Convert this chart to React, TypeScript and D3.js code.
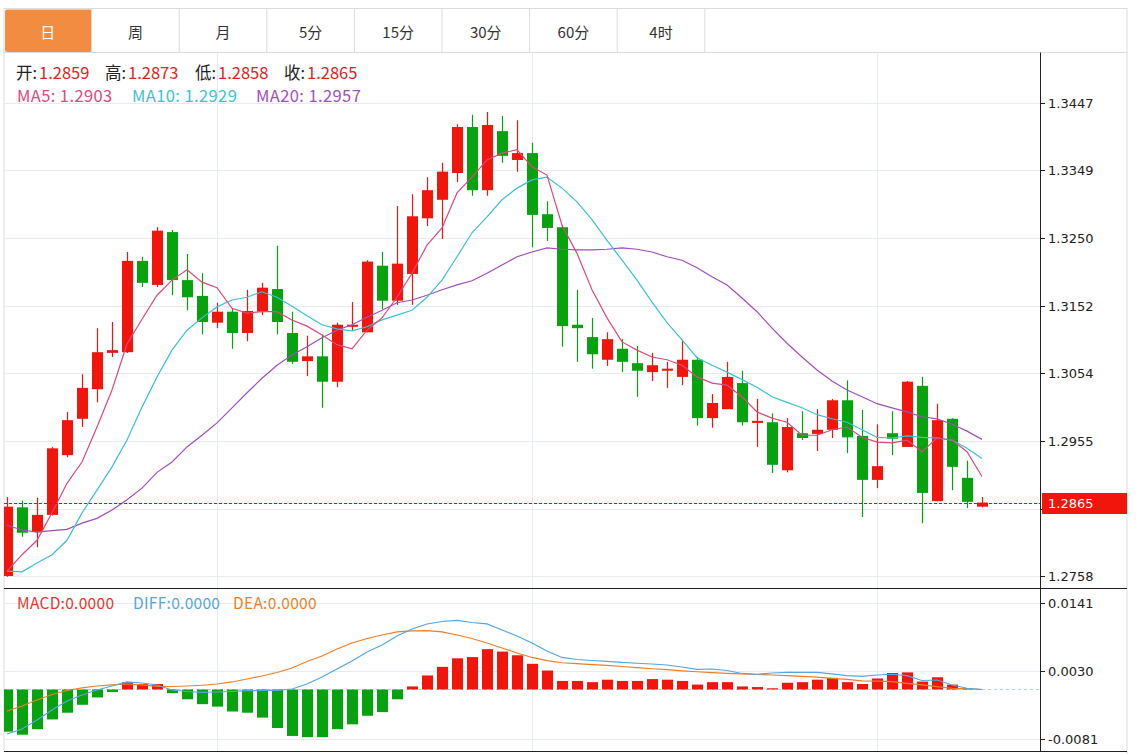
import * as d3 from 'd3';
import { useEffect, useRef } from 'react';

// period tabs
const tabs = ['日', '周', '月', '5分', '15分', '30分', '60分', '4时'];

// daily candles, oldest first
const open = [
  1.2758, 1.2858, 1.2822, 1.2847, 1.2934, 1.2987, 1.303, 1.3083, 1.3084, 1.3217, 1.3182, 1.3259, 1.3189, 1.3166,
  1.3127, 1.3143, 1.3112, 1.3143, 1.3176, 1.3112, 1.3071, 1.3078, 1.3041, 1.3121, 1.3113, 1.321, 1.3159, 1.3198,
  1.3279, 1.3306, 1.3345, 1.3412, 1.332, 1.3406, 1.3364, 1.3374, 1.3285, 1.3266, 1.3124, 1.3106, 1.3073, 1.3089,
  1.3068, 1.3055, 1.3057, 1.3048, 1.3073, 1.2988, 1.3001, 1.3039, 1.2981, 1.2982, 1.2912, 1.2966, 1.2965, 1.2971,
  1.3014, 1.2962, 1.2898, 1.2966, 1.2946, 1.3035, 1.2867, 1.2987, 1.2901, 1.2859,
];
const high = [
  1.2873, 1.2868, 1.2872, 1.2946, 1.2997, 1.3052, 1.3119, 1.3128, 1.323, 1.3223, 1.3266, 1.3262, 1.3227, 1.3199,
  1.3156, 1.3148, 1.3175, 1.3185, 1.3239, 1.3143, 1.3108, 1.311, 1.3127, 1.3157, 1.3218, 1.323, 1.3297, 1.3314,
  1.3339, 1.336, 1.3416, 1.343, 1.3434, 1.3428, 1.3422, 1.3389, 1.3304, 1.3269, 1.3175, 1.3134, 1.3113, 1.3103,
  1.3093, 1.3083, 1.307, 1.3102, 1.3077, 1.3023, 1.307, 1.3057, 1.3016, 1.2995, 1.2988, 1.2998, 1.3001, 1.3016,
  1.3043, 1.3, 1.2979, 1.2998, 1.3042, 1.3048, 1.3009, 1.2988, 1.2926, 1.2873,
];
const low = [
  1.2757, 1.2815, 1.28, 1.2846, 1.2931, 1.2975, 1.3011, 1.3077, 1.3083, 1.3179, 1.3179, 1.3167, 1.3145, 1.311,
  1.3119, 1.3089, 1.31, 1.3138, 1.311, 1.3067, 1.3049, 1.3003, 1.3033, 1.3115, 1.3113, 1.3147, 1.3153, 1.3153,
  1.3268, 1.3249, 1.3332, 1.3312, 1.3312, 1.336, 1.3347, 1.3237, 1.3246, 1.3092, 1.307, 1.306, 1.3064, 1.3055,
  1.3019, 1.3042, 1.3032, 1.3036, 1.2977, 1.2974, 1.3001, 1.2977, 1.2946, 1.2908, 1.2909, 1.2956, 1.294, 1.2959,
  1.2937, 1.2844, 1.2886, 1.2934, 1.2946, 1.2835, 1.2867, 1.2883, 1.2857, 1.2858,
];
const close = [
  1.2859, 1.2821, 1.2847, 1.2944, 1.2985, 1.3032, 1.3084, 1.3087, 1.3217, 1.3185, 1.3261, 1.3189, 1.3164, 1.3128,
  1.3143, 1.3112, 1.3144, 1.3178, 1.3128, 1.307, 1.3078, 1.3041, 1.3124, 1.3124, 1.3216, 1.3159, 1.3213, 1.3282,
  1.332, 1.3347, 1.3412, 1.332, 1.3415, 1.337, 1.3374, 1.3284, 1.3265, 1.3122, 1.3119, 1.3081, 1.3103, 1.307,
  1.3057, 1.3065, 1.306, 1.3073, 1.2988, 1.301, 1.3048, 1.2982, 1.2984, 1.292, 1.2975, 1.2959, 1.2971, 1.3014,
  1.296, 1.2898, 1.2918, 1.2958, 1.3041, 1.2879, 1.2985, 1.2917, 1.2866, 1.2865,
];

// moving averages as shown by the terminal
const ma5 = [
  1.2765, 1.2789, 1.281, 1.285, 1.2893, 1.2924, 1.2975, 1.3029, 1.3096, 1.3132, 1.3167, 1.3189, 1.3204, 1.3186,
  1.3178, 1.3148, 1.3141, 1.3143, 1.3143, 1.3131, 1.3122, 1.3109, 1.3095, 1.3089, 1.3116, 1.3134, 1.3164, 1.3199,
  1.324, 1.3265, 1.3316, 1.3339, 1.3364, 1.3374, 1.3379, 1.3354, 1.3342, 1.3269, 1.3228, 1.3175, 1.3134, 1.3099,
  1.3087, 1.3077, 1.3073, 1.3065, 1.3048, 1.3039, 1.3036, 1.3019, 1.2997, 1.2988, 1.2982, 1.2963, 1.2963, 1.2971,
  1.2975, 1.296, 1.2953, 1.2952, 1.2956, 1.2939, 1.2959, 1.2956, 1.2939, 1.2903,
];
const ma10 = [
  1.2765, 1.2764, 1.2777, 1.2789, 1.281, 1.285, 1.2883, 1.2917, 1.2956, 1.3004, 1.3048, 1.3087, 1.3116, 1.3134,
  1.315, 1.316, 1.3164, 1.3172, 1.3164, 1.3151, 1.3137, 1.3124, 1.3118, 1.3115, 1.3121, 1.3131, 1.3138, 1.3145,
  1.3164, 1.3189, 1.3223, 1.3258, 1.3281, 1.3306, 1.3323, 1.3335, 1.3339, 1.3323, 1.3303, 1.3277, 1.3247, 1.3218,
  1.3189, 1.3157, 1.3127, 1.3102, 1.3076, 1.3065, 1.3055, 1.3044, 1.3033, 1.3019, 1.3011, 1.3003, 1.2993, 1.2987,
  1.2982, 1.2971, 1.296, 1.2959, 1.2962, 1.296, 1.2959, 1.2956, 1.2944, 1.2929,
];
const ma20 = [
  1.2832, 1.2825, 1.2822, 1.2824, 1.2826, 1.2835, 1.2842, 1.2854, 1.2869, 1.2886, 1.2909, 1.2924, 1.2946, 1.2963,
  1.2981, 1.3003, 1.3025, 1.3046, 1.3065, 1.308, 1.3092, 1.3105, 1.3116, 1.3124, 1.3135, 1.3145, 1.3156, 1.316,
  1.3167, 1.3175, 1.3182, 1.3188, 1.3199, 1.3211, 1.3223, 1.323, 1.3236, 1.3234, 1.3233, 1.3233, 1.3234, 1.3236,
  1.3234, 1.323, 1.3223, 1.3218, 1.3207, 1.3194, 1.3182, 1.3163, 1.3143, 1.3119, 1.3097, 1.3077, 1.3058, 1.3042,
  1.3029, 1.3019, 1.3009, 1.3003, 1.2997, 1.299, 1.2987, 1.2979, 1.2969, 1.2957,
];

// MACD panel
const macd = [
  -0.0069, -0.0074, -0.0065, -0.0049, -0.0038, -0.0025, -0.0013, -0.0004, 0.0012, 0.0009, 0.0009, -0.0006, -0.0016,
  -0.0024, -0.0028, -0.0036, -0.0038, -0.0046, -0.0063, -0.0076, -0.0078, -0.0078, -0.0065, -0.0057, -0.0043,
  -0.0037, -0.0016, 0.0005, 0.0023, 0.0037, 0.0051, 0.0053, 0.0066, 0.0062, 0.0056, 0.0042, 0.0031, 0.0014, 0.0014,
  0.0012, 0.0016, 0.0014, 0.0014, 0.0017, 0.0016, 0.0014, 0.0008, 0.0012, 0.0012, 0.0005, 0.0004, 0.0002, 0.0011,
  0.0012, 0.0016, 0.0019, 0.0012, 0.0009, 0.0018, 0.0027, 0.0028, 0.0013, 0.002, 0.0008, 0.0001, 0,
];
const diff = [
  -0.00728, -0.00646, -0.00499, -0.00335, -0.00188, -0.0009, -0.00008, 0.00057, 0.00123, 0.00106, 0.00074, -0.00008,
  -0.00033, -0.00046, -0.00041, -0.00033, -0.0002, -0.00016, -0.00013, 0.00008, 0.0009, 0.00205, 0.00335, 0.00466,
  0.00614, 0.00728, 0.00875, 0.0099, 0.01072, 0.01112, 0.01129, 0.01096, 0.01072, 0.00973, 0.00875, 0.00761, 0.0063,
  0.00524, 0.00491, 0.00474, 0.00461, 0.00442, 0.00429, 0.00417, 0.00401, 0.00368, 0.0033, 0.00335, 0.00311, 0.00262,
  0.00249, 0.0027, 0.00281, 0.00281, 0.00281, 0.00254, 0.00226, 0.00213, 0.00237, 0.00249, 0.00226, 0.00147, 0.00155,
  0.00074, 0.0002, 0,
];
const dea = [
  -0.00352, -0.0027, -0.00172, -0.00082, -0.00016, 0.00025, 0.00057, 0.00074, 0.0009, 0.00074, 0.00052, 0.00049,
  0.00057, 0.00069, 0.0009, 0.00123, 0.00172, 0.00221, 0.00278, 0.00352, 0.00458, 0.00548, 0.00663, 0.00761, 0.00834,
  0.00892, 0.00941, 0.0096, 0.00962, 0.00941, 0.00892, 0.00834, 0.00761, 0.00679, 0.00597, 0.00524, 0.00471, 0.00437,
  0.00422, 0.00406, 0.00393, 0.00376, 0.00357, 0.00339, 0.00324, 0.00306, 0.0029, 0.00275, 0.00265, 0.00254, 0.00245,
  0.00237, 0.00226, 0.00213, 0.00201, 0.00183, 0.00164, 0.00142, 0.00136, 0.00128, 0.00101, 0.00074, 0.00046, 0.0002,
  0.00015, 0,
];

const priceTicks = [1.3447, 1.3349, 1.325, 1.3152, 1.3054, 1.2955, 1.2856, 1.2758];
const macdTicks = [0.0141, 0.003, -0.0081];
const monthStarts = [14, 35, 58]; // candle index where a new month begins

const RED = '#f2150c';
const GREEN = '#06a30e';
const GRID = '#e6ecf1';
const C_MA5 = '#e0487d';
const C_MA10 = '#3cc1d5';
const C_MA20 = '#a04fbd';
const C_DIFF = '#55a7e2';
const C_DEA = '#f07f24';
const FONT = '"Noto Sans CJK SC", "Noto Sans", sans-serif';
const AXIS_FONT = '"DejaVu Sans", sans-serif';

export default function App() {
  const ref = useRef<SVGSVGElement>(null);

  useEffect(() => {
    const W = 1140;
    const H = 754;
    const left = 4;
    const axisX = 1040;
    const right = 1127;
    const tabTop = 8.5;
    const tabBottom = 52.5;
    const mainBottom = 588.5;
    const macdBottom = 751.5;

    const svg = d3.select(ref.current);
    svg.selectAll('*').remove();
    svg.attr('width', W).attr('height', H);

    const x = d3.scaleLinear().domain([0, close.length - 1]).range([7, 982]);
    const y = d3.scaleLinear().domain([1.2758, 1.3447]).range([576, 103]);
    const ym = d3.scaleLinear().domain([-0.0081, 0.0141]).range([739, 603.3]);
    const bodyW = 11;

    svg.append('defs').append('clipPath').attr('id', 'plot').append('rect')
      .attr('x', left).attr('y', tabBottom).attr('width', axisX - left).attr('height', macdBottom - tabBottom);

    //tabs
    const tabW = 87.6;
    const tabG = svg.append('g');
    tabG.append('rect').attr('x', left).attr('y', tabTop).attr('width', right - left).attr('height', tabBottom - tabTop)
      .attr('fill', '#fff').attr('stroke', '#dcdcdc');
    tabs.forEach((t, i) => {
      const tx = left + i * tabW;
      if (i === 0) {
        tabG.append('rect').attr('x', tx + 1).attr('y', tabTop + 1).attr('width', tabW - 1).attr('height', tabBottom - tabTop - 1.5)
          .attr('fill', '#f28c41').attr('rx', 2);
      }
      tabG.append('line').attr('x1', tx + tabW).attr('x2', tx + tabW).attr('y1', tabTop).attr('y2', tabBottom)
        .attr('stroke', '#dcdcdc');
      tabG.append('text').attr('x', tx + tabW / 2).attr('y', 31).attr('text-anchor', 'middle')
        .attr('dominant-baseline', 'central').attr('font-family', FONT).attr('font-size', 15)
        .attr('fill', i === 0 ? '#fff' : '#333').text(t);
    });

    //frame lines
    svg.append('line').attr('x1', left).attr('x2', left).attr('y1', tabBottom).attr('y2', macdBottom).attr('stroke', '#dcdcdc');
    svg.append('line').attr('x1', right).attr('x2', right).attr('y1', tabBottom).attr('y2', H).attr('stroke', '#dcdcdc');

    //grid
    const grid = svg.append('g').attr('stroke', GRID).attr('stroke-width', 1);
    priceTicks.forEach((t) => {
      const yy = Math.round(y(t)) + 0.5;
      grid.append('line').attr('x1', left).attr('x2', axisX).attr('y1', yy).attr('y2', yy);
    });
    macdTicks.forEach((t) => {
      const yy = Math.round(ym(t)) + 0.5;
      grid.append('line').attr('x1', left).attr('x2', axisX).attr('y1', yy).attr('y2', yy);
    });
    monthStarts.forEach((i) => {
      const xx = Math.round(x(i)) + 0.5;
      grid.append('line').attr('x1', xx).attr('x2', xx).attr('y1', tabBottom).attr('y2', macdBottom);
    });

    //legend
    const last = close.length - 1;
    const leg = svg.append('text').attr('y', 79).attr('font-family', FONT).attr('font-size', 16.5);
    [
      ['开:', open[last], 16, 39],
      ['高:', high[last], 105, 128],
      ['低:', low[last], 195, 218],
      ['收:', close[last], 284, 307],
    ].forEach(([k, v, px, vx]) => {
      leg.append('tspan').attr('x', px as number).attr('fill', '#222').text(k as string);
      leg.append('tspan').attr('x', vx as number).attr('fill', '#e2231a').text((v as number).toFixed(4));
    });
    const maLeg = svg.append('text').attr('y', 102).attr('font-family', FONT).attr('font-size', 16.5)
      .attr('letter-spacing', 0.4);
    maLeg.append('tspan').attr('x', 17).attr('fill', C_MA5).text(`MA5: ${ma5[last].toFixed(4)}`);
    maLeg.append('tspan').attr('x', 132).attr('fill', C_MA10).text(`MA10: ${ma10[last].toFixed(4)}`);
    maLeg.append('tspan').attr('x', 256).attr('fill', C_MA20).text(`MA20: ${ma20[last].toFixed(4)}`);

    const plot = svg.append('g').attr('clip-path', 'url(#plot)');

    //candles
    close.forEach((c, i) => {
      const o = open[i];
      const col = c >= o ? RED : GREEN;
      const cx = Math.round(x(i)) + 0.5;
      plot.append('line').attr('x1', cx).attr('x2', cx).attr('y1', y(high[i])).attr('y2', y(low[i]))
        .attr('stroke', col).attr('stroke-width', 1.2);
      const top = y(Math.max(o, c));
      const h = Math.max(2, Math.abs(y(o) - y(c)));
      plot.append('rect').attr('x', cx - bodyW / 2).attr('y', top).attr('width', bodyW).attr('height', h).attr('fill', col);
    });

    //moving averages
    const priceLine = d3.line<number>().x((_d, i) => x(i)).y((d) => y(d));
    [
      [ma20, C_MA20],
      [ma10, C_MA10],
      [ma5, C_MA5],
    ].forEach(([arr, col]) => {
      plot.append('path').datum(arr as number[]).attr('fill', 'none').attr('stroke', col as string)
        .attr('stroke-width', 1.2).attr('d', priceLine);
    });

    //last price marker
    const py = Math.round(y(close[last])) + 0.5;
    svg.append('line').attr('x1', left).attr('x2', axisX).attr('y1', py).attr('y2', py)
      .attr('stroke', '#f00').attr('stroke-width', 1.2).attr('stroke-dasharray', '3,2');

    //price axis
    svg.append('line').attr('x1', axisX + 0.5).attr('x2', axisX + 0.5).attr('y1', tabBottom).attr('y2', mainBottom).attr('stroke', '#222');
    const ax = svg.append('g').attr('font-family', AXIS_FONT).attr('font-size', 13).attr('fill', '#222');
    priceTicks.forEach((t) => {
      const yy = Math.round(y(t)) + 0.5;
      ax.append('line').attr('x1', axisX).attr('x2', axisX + 5).attr('y1', yy).attr('y2', yy).attr('stroke', '#222');
      // the label under the last-price marker stays hidden, as in the terminal
      if (Math.abs(yy - py) > 14) {
        ax.append('text').attr('x', axisX + 8).attr('y', yy).attr('dominant-baseline', 'central').text(t.toFixed(4));
      }
    });
    svg.append('rect').attr('x', axisX + 2).attr('y', py - 10.5).attr('width', right - axisX - 2).attr('height', 21).attr('fill', RED);
    svg.append('text').attr('x', axisX + 8).attr('y', py).attr('dominant-baseline', 'central')
      .attr('font-family', AXIS_FONT).attr('font-size', 13).attr('fill', '#fff').text(close[last].toFixed(4));

    //separator between panels
    svg.append('line').attr('x1', left).attr('x2', right).attr('y1', mainBottom).attr('y2', mainBottom).attr('stroke', '#222');
    svg.append('line').attr('x1', left).attr('x2', right).attr('y1', macdBottom).attr('y2', macdBottom).attr('stroke', '#222');

    //macd panel
    const zy = ym(0);
    plot.append('line').attr('x1', left).attr('x2', axisX).attr('y1', zy).attr('y2', zy)
      .attr('stroke', '#a9d6ec').attr('stroke-dasharray', '3,3');
    macd.forEach((v, i) => {
      if (v === 0) return;
      const cx = Math.round(x(i)) + 0.5;
      plot.append('rect').attr('x', cx - bodyW / 2).attr('y', Math.min(zy, ym(v))).attr('width', bodyW)
        .attr('height', Math.abs(ym(v) - zy)).attr('fill', v > 0 ? RED : GREEN);
    });
    const macdLine = d3.line<number>().x((_d, i) => x(i)).y((d) => ym(d));
    plot.append('path').datum(dea).attr('fill', 'none').attr('stroke', C_DEA).attr('stroke-width', 1.2).attr('d', macdLine);
    plot.append('path').datum(diff).attr('fill', 'none').attr('stroke', C_DIFF).attr('stroke-width', 1.2).attr('d', macdLine);

    svg.append('line').attr('x1', axisX + 0.5).attr('x2', axisX + 0.5).attr('y1', mainBottom).attr('y2', macdBottom).attr('stroke', '#222');
    macdTicks.forEach((t) => {
      const yy = Math.round(ym(t)) + 0.5;
      ax.append('line').attr('x1', axisX).attr('x2', axisX + 5).attr('y1', yy).attr('y2', yy).attr('stroke', '#222');
      ax.append('text').attr('x', axisX + 8).attr('y', yy).attr('dominant-baseline', 'central').text(t.toFixed(4));
    });

    const mLeg = svg.append('text').attr('y', 609).attr('font-family', FONT).attr('font-size', 15.5)
      .attr('letter-spacing', 0.3);
    mLeg.append('tspan').attr('x', 17).attr('fill', '#e3372c').text(`MACD:${macd[last].toFixed(4)}`);
    mLeg.append('tspan').attr('x', 133).attr('fill', C_DIFF).text(`DIFF:${diff[last].toFixed(4)}`);
    mLeg.append('tspan').attr('x', 233).attr('fill', C_DEA).text(`DEA:${dea[last].toFixed(4)}`);
  }, []);

  return <svg ref={ref} style={{ position: 'absolute', left: 0, top: 0, background: '#fff' }} />;
}
